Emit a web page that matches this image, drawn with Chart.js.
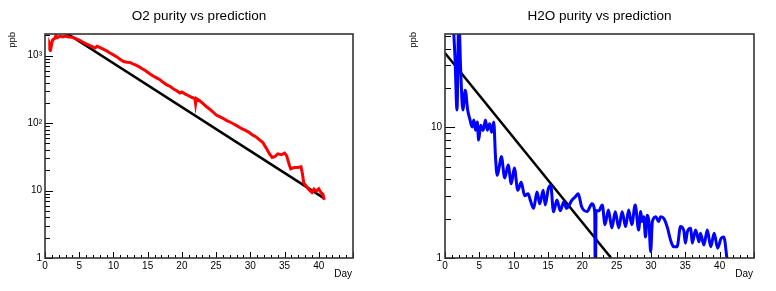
<!DOCTYPE html>
<html>
<head>
<meta charset="utf-8">
<script src="https://cdn.jsdelivr.net/npm/chart.js@4/dist/chart.umd.min.js"></script>
<style>
  html, body { margin: 0; padding: 0; background: #ffffff; }
  #wrap { position: relative; width: 776px; height: 291px; overflow: hidden; }
  .panel { position: absolute; top: 0; width: 388px; height: 291px; }
  #leftPanel { left: 0; }
  #rightPanel { left: 388px; }
</style>
</head>
<body>
<div id="wrap">
  <div class="panel" id="leftPanel"><canvas id="o2Chart" width="388" height="291"></canvas></div>
  <div class="panel" id="rightPanel"><canvas id="h2oChart" width="388" height="291"></canvas></div>
</div>
<script>
// O2 measured purity (ppb) by day
const o2Days = [0.6, 0.7, 0.9, 1.1, 1.4, 1.6, 1.8, 2.2, 2.6, 3.0, 3.5, 4.0, 4.5, 5.0, 5.5, 6.0, 6.5, 7.0, 7.3, 7.6,
  8.0, 8.5, 9.0, 9.5, 10.0, 10.5, 11.0, 11.5, 12.0, 12.5, 12.8, 13.2, 13.7, 14.2, 14.7, 15.3, 15.8, 16.3, 16.8, 17.3,
  17.8, 18.3, 18.8, 19.3, 19.7, 20.0, 20.5, 21.0, 21.5, 21.9, 22.0, 22.1, 22.6, 23.1, 23.6, 24.1, 24.6, 25.0, 25.5, 26.0,
  26.5, 27.0, 27.5, 28.0, 28.4, 28.8, 29.3, 29.8, 30.3, 30.8, 31.3, 31.8, 32.3, 32.8, 33.2, 33.6, 34.0, 34.5, 35.0, 35.3,
  35.7, 35.9, 36.4, 36.9, 37.4, 37.6, 37.8, 38.2, 38.6, 39.0, 39.3, 39.6, 40.0, 40.3, 40.6, 40.8];
const o2Ppb = [1200, 1500, 1350, 1700, 1800, 2000, 1850, 1950, 1900, 1950, 1900, 1880, 1800, 1700, 1600, 1500, 1420, 1350, 1300, 1380,
  1330, 1250, 1180, 1100, 1030, 960, 880, 820, 800, 790, 760, 730, 690, 640, 600, 540, 500, 470, 440, 400,
  370, 350, 320, 300, 280, 290, 270, 255, 240, 232, 195, 232, 215, 195, 175, 160, 145, 132, 125, 118,
  110, 104, 98, 92, 87, 82, 78, 73, 67, 63, 57, 52, 43, 35, 31, 32, 35, 34, 36, 33,
  24, 21, 22, 22, 22.5, 18, 13, 11.5, 10.2, 9.4, 10.5, 9.8, 10.6, 9.4, 8.8, 7.3];

// O2 exponential prediction
const o2FitDays = [0, 40.8];
const o2FitPpb = [3460, 7.66];

// H2O measured purity (ppb) by day
const h2oDays = [1.1, 1.45, 1.75, 2.0, 2.3, 2.6, 2.95, 3.3, 3.6, 3.95, 4.2, 4.45, 4.7, 4.9, 5.2, 5.55, 5.9, 6.15, 6.5, 6.8,
  7.1, 7.35, 7.6, 7.9, 8.2, 8.7, 9.2, 9.65, 10.1, 10.6, 11.1, 11.6, 12.1, 12.4, 12.9, 13.4, 13.8, 14.3, 14.6, 15.05,
  15.4, 15.8, 16.3, 16.8, 17.3, 17.7, 18.5, 19.0, 19.4, 19.9, 20.7, 21.4, 21.8, 21.9, 22.0, 22.4, 22.9, 23.3, 23.8, 24.3,
  24.8, 25.3, 25.8, 26.3, 26.75, 27.2, 27.7, 28.2, 28.5, 28.7, 28.95, 29.2, 29.45, 29.7, 29.95, 30.2, 30.7, 31.1, 31.4, 31.9,
  32.4, 32.85, 33.3, 33.8, 34.3, 34.6, 34.8, 35.0, 35.3, 35.8, 36.0, 36.5, 37.0, 37.2, 37.7, 38.2, 38.7, 39.2, 39.7, 40.2,
  40.6, 41.1];
const h2oPpb = [80, 35, 13.6, 70, 26, 13.6, 19.3, 13.6, 11.7, 10.1, 11.4, 9.5, 11.0, 8.0, 10.4, 9.5, 11.4, 9.5, 10.7, 9.2,
  11.0, 6.0, 4.3, 5.0, 6.0, 4.1, 5.15, 3.7, 4.9, 3.3, 3.8, 3.0, 3.1, 2.8, 2.4, 3.2, 2.6, 3.3, 2.55, 3.4,
  3.6, 2.26, 2.78, 2.3, 2.7, 2.4, 2.78, 2.95, 3.1, 2.47, 2.27, 2.6, 2.27, 0.5, 2.3, 2.3, 2.55, 1.8, 2.33, 1.7,
  2.26, 1.7, 2.26, 1.74, 2.33, 1.8, 2.55, 1.64, 2.27, 1.9, 2.07, 1.45, 2.13, 1.9, 1.12, 1.9, 2.07, 1.9, 2.07, 2.0,
  1.7, 1.37, 1.22, 1.22, 1.74, 1.7, 1.6, 1.3, 1.59, 1.69, 1.3, 1.64, 1.33, 1.55, 1.26, 1.64, 1.22, 1.55, 1.19, 1.41,
  1.45, 0.95];

// H2O exponential prediction
const h2oFitDays = [0, 24.2];
const h2oFitPpb = [37.2, 1];

const dayMin = 0;
const dayMax = 45;
const dayStep = 5;
const o2Decades = [1, 10, 100, 1000];
const o2DecadeLabels = ["1", "10", "10\u00b2", "10\u00b3"];
const h2oDecades = [1, 10];
const h2oDecadeLabels = ["1", "10"];

const FONT = "Liberation Sans, Arial, Helvetica, sans-serif";

function toPoints(xs, ys) {
  return xs.map((x, i) => ({ x: x, y: ys[i] }));
}

// ROOT style frame: inward ticks on bottom/left, box, title and axis titles
const rootFrame = {
  id: "rootFrame",
  afterDraw(chart, _args, opts) {
    const ctx = chart.ctx;
    const area = chart.chartArea;
    const xs = chart.scales.x;
    const ys = chart.scales.y;

    ctx.save();
    ctx.strokeStyle = "#000000";
    ctx.lineWidth = 1;

    for (let d = dayMin; d <= dayMax; d++) {
      const px = Math.round(xs.getPixelForValue(d)) + 0.5;
      const len = d % dayStep === 0 ? 6 : 3;
      ctx.beginPath();
      ctx.moveTo(px, area.bottom);
      ctx.lineTo(px, area.bottom - len);
      ctx.stroke();
    }

    for (let dec = 1; dec <= ys.max; dec *= 10) {
      for (let k = 1; k <= 9; k++) {
        const v = k * dec;
        if (v < ys.min || v > ys.max) continue;
        const py = Math.round(ys.getPixelForValue(v)) + 0.5;
        const len = k === 1 ? opts.majorTick : opts.minorTick;
        ctx.beginPath();
        ctx.moveTo(area.left, py);
        ctx.lineTo(area.left + len, py);
        ctx.stroke();
      }
    }

    ctx.strokeStyle = "#333333";
    ctx.lineWidth = 1.6;
    ctx.strokeRect(area.left, area.top, area.right - area.left, area.bottom - area.top);

    ctx.fillStyle = "#000000";
    ctx.font = "13.5px " + FONT;
    ctx.textAlign = "center";
    ctx.textBaseline = "alphabetic";
    ctx.fillText(opts.title, (area.left + area.right) / 2, 20);

    ctx.font = "10px " + FONT;
    ctx.textAlign = "right";
    ctx.fillText("Day", area.right - 1, 277);

    ctx.translate(opts.yTitleX, area.top - 2);
    ctx.rotate(-Math.PI / 2);
    ctx.font = "9.5px " + FONT;
    ctx.textAlign = "right";
    ctx.fillText("ppb", 0, 0);
    ctx.restore();
  },
};

function makeChart(canvasId, cfg) {
  return new Chart(document.getElementById(canvasId), {
    type: "line",
    data: {
      datasets: [
        {
          data: toPoints(cfg.days, cfg.values),
          borderColor: cfg.color,
          borderWidth: 3,
          pointRadius: 0,
          tension: 0,
          cubicInterpolationMode: cfg.smooth ? "monotone" : "default",
          clip: 0,
        },
        {
          data: toPoints(cfg.fitDays, cfg.fitValues),
          borderColor: "#000000",
          borderWidth: 2.5,
          pointRadius: 0,
          tension: 0,
          clip: 0,
        },
      ],
    },
    options: {
      responsive: false,
      animation: false,
      devicePixelRatio: 1,
      layout: { padding: { top: 34, right: cfg.rightPad, left: 0, bottom: 0 } },
      plugins: {
        legend: { display: false },
        tooltip: { enabled: false },
        rootFrame: {
          title: cfg.title,
          yTitleX: cfg.yTitleX,
          majorTick: cfg.majorTick,
          minorTick: cfg.minorTick,
        },
      },
      scales: {
        x: {
          type: "linear",
          min: dayMin,
          max: dayMax,
          grid: { display: false, drawTicks: false },
          border: { display: false },
          ticks: {
            stepSize: dayStep,
            padding: 2,
            color: "#000000",
            font: { family: FONT, size: 10 },
            maxRotation: 0,
            callback: (v) => (v < dayMax ? String(v) : ""),
          },
          afterFit: (scale) => { scale.height = 33; },
        },
        y: {
          type: "logarithmic",
          min: cfg.yMin,
          max: cfg.yMax,
          grid: { display: false, drawTicks: false },
          border: { display: false },
          ticks: {
            padding: 3,
            color: "#000000",
            font: { family: FONT, size: 10 },
            callback: (v) => {
              const i = cfg.decades.indexOf(v);
              return i >= 0 ? cfg.decadeLabels[i] : "";
            },
          },
          afterBuildTicks: (scale) => {
            scale.ticks = cfg.decades.map((v) => ({ value: v }));
          },
          afterFit: (scale) => { scale.width = cfg.yWidth; },
        },
      },
    },
    plugins: [rootFrame],
  });
}

makeChart("o2Chart", {
  title: "O2 purity vs prediction",
  days: o2Days,
  values: o2Ppb,
  fitDays: o2FitDays,
  fitValues: o2FitPpb,
  color: "#ff0000",
  smooth: false,
  yMin: 1,
  yMax: 2100,
  decades: o2Decades,
  decadeLabels: o2DecadeLabels,
  yWidth: 45,
  rightPad: 35,
  yTitleX: 15,
  majorTick: 8,
  minorTick: 5,
});

makeChart("h2oChart", {
  title: "H2O purity vs prediction",
  days: h2oDays,
  values: h2oPpb,
  fitDays: h2oFitDays,
  fitValues: h2oFitPpb,
  color: "#0000ff",
  smooth: true,
  yMin: 1,
  yMax: 52,
  decades: h2oDecades,
  decadeLabels: h2oDecadeLabels,
  yWidth: 57,
  rightPad: 22,
  yTitleX: 28,
  majorTick: 10,
  minorTick: 6,
});
</script>
</body>
</html>
